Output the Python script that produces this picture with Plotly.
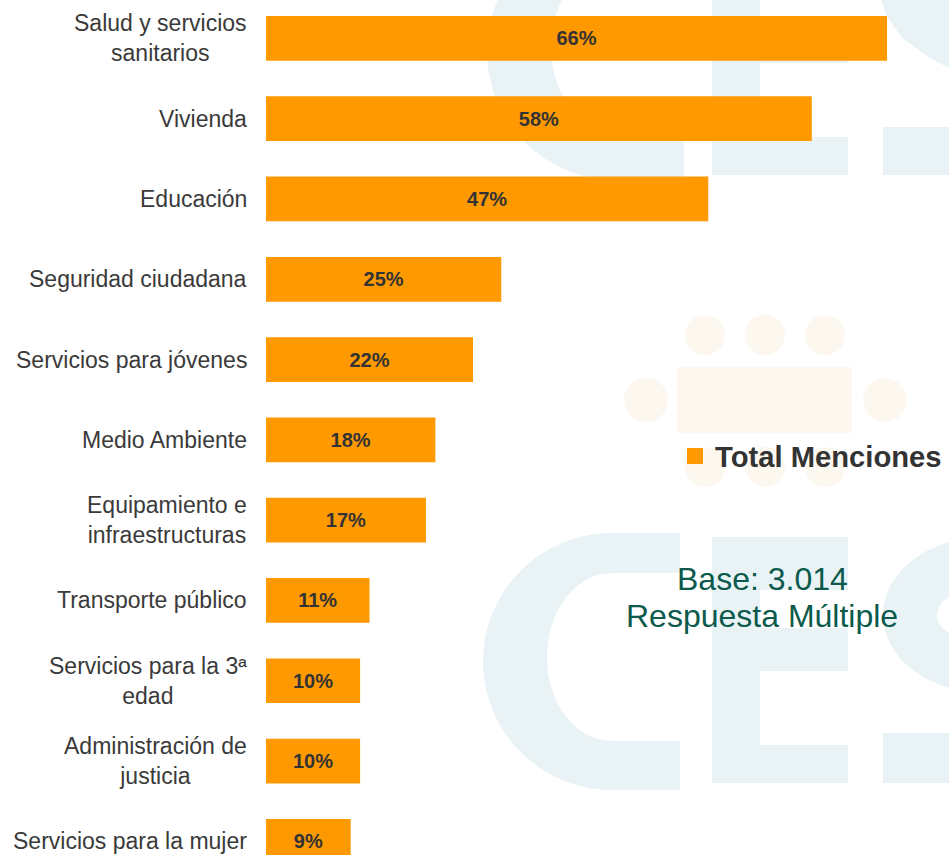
import numpy as np
import plotly.graph_objects as go

# ---------------- data ----------------
categories = [
    "Salud y servicios sanitarios",
    "Vivienda",
    "Educación",
    "Seguridad ciudadana",
    "Servicios para jóvenes",
    "Medio Ambiente",
    "Equipamiento e infraestructuras",
    "Transporte público",
    "Servicios para la 3ª edad",
    "Administración de justicia",
    "Servicios para la mujer",
]
category_labels = [
    "Salud y servicios<br>sanitarios",
    "Vivienda",
    "Educación",
    "Seguridad ciudadana",
    "Servicios para jóvenes",
    "Medio Ambiente",
    "Equipamiento e<br>infraestructuras",
    "Transporte público",
    "Servicios para la 3ª<br>edad",
    "Administración de<br>justicia",
    "Servicios para la mujer",
]
values = [66, 58, 47, 25, 22, 18, 17, 11, 10, 10, 9]
series_name = "Total Menciones"
base_lines = ["Base: 3.014", "Respuesta Múltiple"]

# ---------------- layout constants ----------------
W, H = 949, 855
L = 266
PW = W - L
FONT = "Liberation Sans, Arial, Helvetica, sans-serif"
ORANGE = "#FF9900"
TXT = "#3a3a3a"
TEAL = "#0b5a4b"
WM_BLUE = "#e9f3f6"
WM_ORANGE = "#fdf8ef"


def px(xp, yp):
    return f"{(xp - L) / PW:.5f},{1 - yp / H:.5f}"


def arc_pts(cx, cy, rx, ry, a0, a1, n=48):
    a = np.radians(np.linspace(a0, a1, n))
    return [(cx + rx * np.cos(t), cy - ry * np.sin(t)) for t in a]


def path_from(points):
    return "M " + " L ".join(px(x, y) for x, y in points) + " Z"


def c_letter(dy=0.0, dx=0.0):
    pts = [(680 + dx, 533 + dy), (612 + dx, 533 + dy)]
    pts += [(x + dx, y + dy) for x, y in arc_pts(612, 661.5, 129, 128.5, 90, 270)]
    pts += [(680 + dx, 790 + dy), (680 + dx, 741 + dy), (612 + dx, 741 + dy)]
    pts += [(x + dx, y + dy) for x, y in arc_pts(612, 657, 65, 84, 270, 90)]
    pts += [(680 + dx, 573 + dy)]
    return path_from(pts)


def rect_path(x0, y0, x1, y1):
    return path_from([(x0, y0), (x1, y0), (x1, y1), (x0, y1)])


def e_letter(dy=0.0):
    return [
        rect_path(712, 537 + dy, 760, 783 + dy),
        rect_path(760, 537 + dy, 848, 590 + dy),
        rect_path(760, 628 + dy, 848, 671 + dy),
        rect_path(760, 745 + dy, 848, 783 + dy),
    ]


shapes = []
wm_paths = [c_letter(0), c_letter(-610, 4)] + e_letter(0) + e_letter(-608)
s_bowl = arc_pts(985, 615, 102, 78, 90, 270) + arc_pts(985, 615, 48, 28, 270, 90)
wm_paths.append(path_from(s_bowl))
wm_paths.append(rect_path(883, 733, 960, 783))
wm_paths.append(rect_path(883, 127, 960, 175))
wm_paths.append(path_from([(880, -5), (960, -5), (960, 74), (930, 58), (902, 38), (886, 15)]))
for p in wm_paths:
    shapes.append(dict(type="path", xref="paper", yref="paper", path=p,
                       fillcolor=WM_BLUE, line=dict(width=0), layer="below"))


def circle(cx, cy, r, color):
    return dict(type="circle", xref="paper", yref="paper",
                x0=(cx - r - L) / PW, x1=(cx + r - L) / PW,
                y0=1 - (cy + r) / H, y1=1 - (cy - r) / H,
                fillcolor=color, line=dict(width=0), layer="below")


for cx in (705, 765, 825):
    shapes.append(circle(cx, 335, 20, WM_ORANGE))
    shapes.append(circle(cx, 467, 20, WM_ORANGE))
shapes.append(circle(646, 400, 22, WM_ORANGE))
shapes.append(circle(885, 400, 22, WM_ORANGE))
shapes.append(dict(type="rect", xref="paper", yref="paper",
                   x0=(677 - L) / PW, x1=(852 - L) / PW,
                   y0=1 - 433 / H, y1=1 - 367 / H,
                   fillcolor=WM_ORANGE, line=dict(width=0), layer="below"))

# ---------------- figure ----------------
fig = go.Figure()
fig.add_trace(go.Bar(
    x=values, y=categories, orientation="h",
    marker=dict(color=ORANGE, line=dict(width=0)),
    width=0.557,
    text=[f"{v}%" for v in values],
    textposition="inside", insidetextanchor="middle", textangle=0,
    textfont=dict(family=FONT, size=20, color="#333333", weight="bold"),
    showlegend=False, hoverinfo="skip",
))
fig.add_trace(go.Scatter(
    x=[None], y=[None], mode="markers", name=series_name,
    marker=dict(symbol="square", size=16, color=ORANGE),
    showlegend=True,
))

annotations = []
for cat, lab in zip(categories, category_labels):
    annotations.append(dict(
        x=0, xref="paper", y=cat, yref="y", text=lab,
        xanchor="right", yanchor="middle", align="center", xshift=-17,
        showarrow=False, font=dict(family=FONT, size=23, color=TXT),
    ))
for txt, ypix in zip(base_lines, (579, 616)):
    annotations.append(dict(
        x=(762 - L) / PW, xref="paper", y=1 - ypix / H, yref="paper", text=txt,
        xanchor="center", yanchor="middle", showarrow=False,
        font=dict(family=FONT, size=32, color=TEAL),
    ))

fig.update_layout(
    width=W, height=H,
    margin=dict(l=L, r=0, t=0, b=0),
    paper_bgcolor="white", plot_bgcolor="rgba(0,0,0,0)",
    xaxis=dict(range=[0, PW / 9.41], visible=False, fixedrange=True),
    yaxis=dict(type="category", categoryorder="array", categoryarray=categories,
               range=[10.170, -0.478], showticklabels=False, showgrid=False,
               zeroline=False, showline=False, ticks="", fixedrange=True),
    bargap=0.443,
    legend=dict(x=(675 - L) / PW, xanchor="left", y=1 - 456 / H, yanchor="middle",
                bgcolor="rgba(0,0,0,0)", borderwidth=0,
                font=dict(family=FONT, size=29.2, color="#333333", weight="bold")),
    shapes=shapes,
    annotations=annotations,
)

fig.write_html("out.html",
               config={"displayModeBar": False},
               post_script="document.body.style.margin='0px';document.body.style.overflow='hidden';")
